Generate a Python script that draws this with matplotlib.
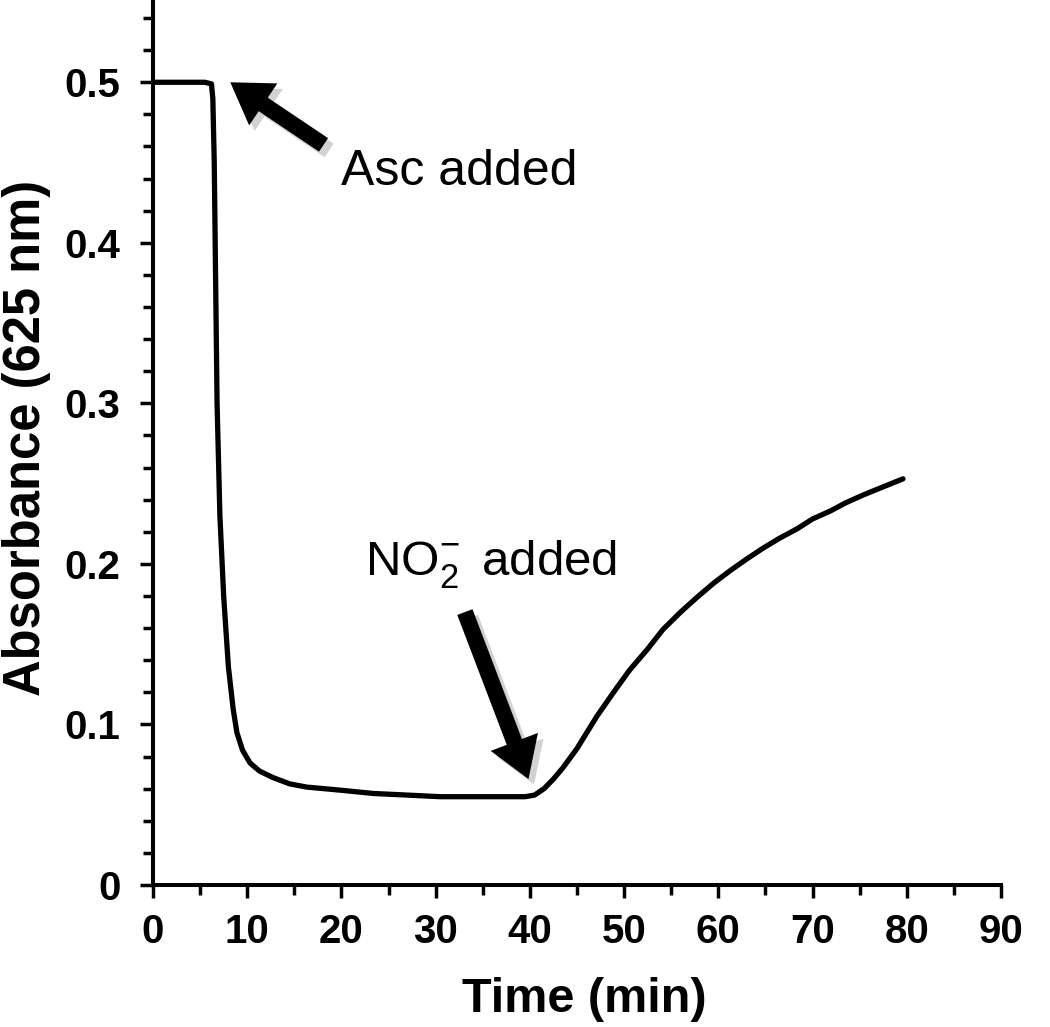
import matplotlib
matplotlib.use("Agg")
import matplotlib.pyplot as plt
import matplotlib.patheffects as pe
from matplotlib.patches import FancyArrowPatch
from matplotlib.ticker import MultipleLocator

# ---- data ----
time_min = [0, 2, 4, 5.5, 6.2, 6.35, 6.5, 6.6, 6.8, 7.1, 7.5, 8.0, 8.5, 8.9, 9.5,
            10.3, 11.3, 12.7, 14.5, 16.3, 20, 23.4, 27, 30.5, 35, 39.5, 40.5,
            41.5, 42.5, 43.5, 45, 47.1, 49, 50.6, 52.5, 54.1, 56, 57.7, 59.5,
            61.3, 63, 64.8, 66.5, 68.4, 70, 71.9, 73.5, 75.4, 77.5, 79.6]
absorbance = [0.5, 0.5, 0.5, 0.5, 0.499, 0.49, 0.45, 0.40, 0.30, 0.23, 0.18,
              0.136, 0.11, 0.095, 0.084, 0.076, 0.071, 0.067, 0.063, 0.061,
              0.059, 0.057, 0.056, 0.055, 0.055, 0.055, 0.056, 0.060, 0.066,
              0.073, 0.085, 0.105, 0.121, 0.134, 0.147, 0.159, 0.170, 0.179,
              0.188, 0.196, 0.203, 0.210, 0.216, 0.222, 0.228, 0.233, 0.238,
              0.243, 0.248, 0.253]

x_ticks = [0, 10, 20, 30, 40, 50, 60, 70, 80, 90]
y_ticks = [0, 0.1, 0.2, 0.3, 0.4, 0.5]
y_tick_labels = ["0", "0.1", "0.2", "0.3", "0.4", "0.5"]

asc_label = "Asc added"
asc_tip = (8.2, 0.500)
asc_tail = (18.1, 0.461)
asc_text_pos = (19.9, 0.444)

no2_label = r"NO$_2^{-}$$\,$ added"
no2_tip = (39.85, 0.066)
no2_tail = (33.1, 0.170)
no2_text_pos = (22.5, 0.200)

# ---- figure ----
plt.rcParams['font.family'] = ['Liberation Sans', 'DejaVu Sans']
plt.rcParams['mathtext.fontset'] = 'custom'
plt.rcParams['mathtext.rm'] = 'Liberation Sans'
plt.rcParams['mathtext.it'] = 'Liberation Sans'
plt.rcParams['mathtext.bf'] = 'Liberation Sans:bold'

fig = plt.figure(figsize=(10.5, 10.27), dpi=100)
ax = fig.add_axes([153/1050, 1 - 885/1027, (1001-153)/1050, (885-2)/1027])

ax.plot(time_min, absorbance, color='black', lw=3.8, solid_capstyle='round',
        solid_joinstyle='round')

ax.set_xlim(0, 90)
ax.set_ylim(0, 0.55)
ax.set_xticks(x_ticks)
ax.set_yticks(y_ticks)
ax.set_yticklabels(y_tick_labels)
ax.xaxis.set_minor_locator(MultipleLocator(5))
ax.yaxis.set_minor_locator(MultipleLocator(0.02))

for s in ['top', 'right']:
    ax.spines[s].set_visible(False)
for s in ['left', 'bottom']:
    ax.spines[s].set_linewidth(2.9)

ax.tick_params(which='major', direction='out', length=9.5, width=2.5,
               labelsize=29)
ax.tick_params(axis='x', which='major', pad=11)
ax.tick_params(axis='y', which='major', pad=14)
ax.tick_params(which='minor', direction='out', length=7, width=2.5)
for lab in ax.get_xticklabels() + ax.get_yticklabels():
    lab.set_fontweight('bold')

ax.set_xlabel("Time (min)", fontsize=35, fontweight='bold', va='center')
ax.xaxis.set_label_coords(0.509, -0.130)
ax.set_ylabel("Absorbance (625 nm)", fontsize=36.5, fontweight='bold', va='center')
ax.yaxis.set_label_coords(-0.149, 0.506)

shadow = [pe.SimplePatchShadow(offset=(4, -4), shadow_rgbFace='0.5', alpha=0.35),
          pe.Normal()]

for tail, tip in [(asc_tail, asc_tip), (no2_tail, no2_tip)]:
    arr = FancyArrowPatch(tail, tip, transform=ax.transData,
                          arrowstyle="simple,head_length=1.1,head_width=1.4,tail_width=0.45",
                          mutation_scale=26, color='black', lw=0,
                          shrinkA=0, shrinkB=0, clip_on=False)
    arr.set_path_effects(shadow)
    ax.add_patch(arr)

ax.text(*asc_text_pos, asc_label, fontsize=36, ha='left', va='center')
ax.text(*no2_text_pos, no2_label, fontsize=35.5, ha='left', va='center')

fig.savefig("out.png", dpi=100, facecolor='white')
